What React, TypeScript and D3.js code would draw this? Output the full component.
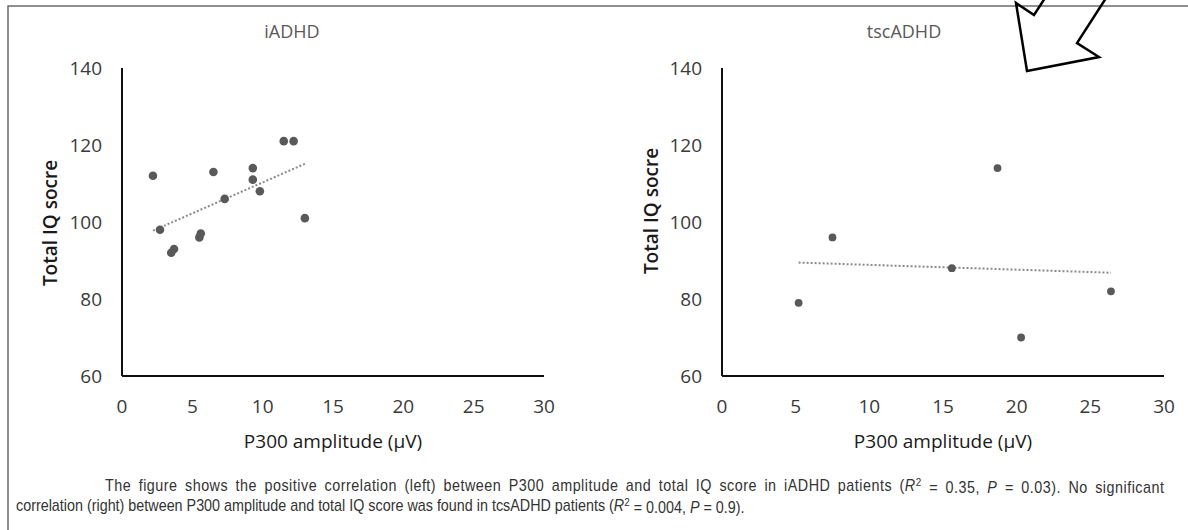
import React from 'react'
import * as d3 from 'd3'

// P300 amplitude (uV) vs total IQ score
const iadhdAmp = [2.2, 2.7, 3.5, 3.7, 5.5, 5.6, 6.5, 7.3, 9.3, 9.3, 9.8, 11.5, 12.2, 13.0]
const iadhdIQ = [112, 98, 92, 93, 96, 97, 113, 106, 114, 111, 108, 121, 121, 101]
const tscAmp = [5.2, 7.5, 15.6, 18.7, 20.3, 26.4]
const tscIQ = [79, 96, 88, 114, 70, 82]

const xTicks = [0, 5, 10, 15, 20, 25, 30]
const yTicks = [60, 80, 100, 120, 140]

const W = 1188
const H = 530

const panels = [
    { title: 'iADHD', xs: iadhdAmp, ys: iadhdIQ, left: 122, right: 544, titleX: 292, yTitleX: 50, yTitleY: 223, r: 4.3 },
    { title: 'tscADHD', xs: tscAmp, ys: tscIQ, left: 722, right: 1164, titleX: 904, yTitleX: 651, yTitleY: 211, r: 3.9 },
]

const fit = (xs: number[], ys: number[]) => {
    const mx = d3.mean(xs) as number
    const my = d3.mean(ys) as number
    const sxy = d3.sum(xs, (x, i) => (x - mx) * (ys[i] - my))
    const sxx = d3.sum(xs, (x) => (x - mx) * (x - mx))
    const b = sxy / sxx
    return (x: number) => my + b * (x - mx)
}

const App = () => {
    const ref = React.useRef<SVGSVGElement>(null)

    React.useEffect(() => {
        document.body.style.margin = '0'
        const svg = d3.select(ref.current)
        svg.selectAll('*').remove()

        const top = 68
        const bottom = 376
        const font = '"Open Sans", sans-serif'

        panels.forEach((p) => {
            const x = d3.scaleLinear().domain([0, 30]).range([p.left, p.right])
            const y = d3.scaleLinear().domain([60, 140]).range([bottom, top])
            const g = svg.append('g')

            g.append('text')
                .attr('x', p.titleX)
                .attr('y', 38)
                .attr('text-anchor', 'middle')
                .style('font-family', font)
                .style('font-size', '18px')
                .attr('fill', '#595959')
                .text(p.title)

            // axis lines, no tick marks
            g.append('line')
                .attr('x1', p.left).attr('y1', y(140))
                .attr('x2', p.left).attr('y2', y(60))
                .attr('stroke', '#111').attr('stroke-width', 2)
            g.append('line')
                .attr('x1', p.left).attr('y1', y(60))
                .attr('x2', p.right).attr('y2', y(60))
                .attr('stroke', '#111').attr('stroke-width', 2)

            g.selectAll('.yt')
                .data(yTicks)
                .enter()
                .append('text')
                .attr('x', p.left - 20)
                .attr('y', (d) => y(d))
                .attr('dy', '0.36em')
                .attr('text-anchor', 'end')
                .style('font-family', font)
                .style('font-size', '19px')
                .attr('fill', '#3a3a3a')
                .text((d) => d)

            g.selectAll('.xt')
                .data(xTicks)
                .enter()
                .append('text')
                .attr('x', (d) => x(d))
                .attr('y', 413)
                .attr('text-anchor', 'middle')
                .style('font-family', font)
                .style('font-size', '19px')
                .attr('fill', '#3a3a3a')
                .text((d) => d)

            g.append('text')
                .attr('transform', `translate(${p.yTitleX},${p.yTitleY}) rotate(-90)`)
                .attr('dy', '0.36em')
                .attr('text-anchor', 'middle')
                .style('font-family', font)
                .style('font-size', '19px')
                .style('font-weight', 600)
                .attr('fill', '#1a1a1a')
                .text('Total IQ socre')

            g.append('text')
                .attr('x', (p.left + p.right) / 2)
                .attr('y', 448)
                .attr('text-anchor', 'middle')
                .style('font-family', font)
                .style('font-size', '19px')
                .attr('fill', '#1a1a1a')
                .text('P300 amplitude (\u03bcV)')

            // linear trend line over the data range
            const f = fit(p.xs, p.ys)
            const [lo, hi] = d3.extent(p.xs) as [number, number]
            g.append('line')
                .attr('x1', x(lo)).attr('y1', y(f(lo)))
                .attr('x2', x(hi)).attr('y2', y(f(hi)))
                .attr('stroke', '#8a8a8a')
                .attr('stroke-width', 2)
                .attr('stroke-dasharray', '2 2')

            g.selectAll('circle')
                .data(p.xs)
                .enter()
                .append('circle')
                .attr('cx', (d) => x(d))
                .attr('cy', (d, i) => y(p.ys[i]))
                .attr('r', p.r)
                .attr('fill', '#595959')
        })

        // frame
        svg.append('path')
            .attr('d', `M 8 ${H} V 6 H ${W}`)
            .attr('fill', 'none')
            .attr('stroke', '#6b6b6b')
            .attr('stroke-width', 1.5)

        // hollow arrow annotation
        svg.append('polygon')
            .attr('points', '1027,71 1016,3 1034,15 1047,-5 1108,-5 1077,43 1099,57')
            .attr('fill', 'none')
            .attr('stroke', '#000')
            .attr('stroke-width', 2.5)
            .attr('stroke-linejoin', 'miter')

        // caption (justified paragraph, condensed type)
        const cap = svg.append('g')
            .style('font-family', '"Liberation Sans", Arial, sans-serif')
            .style('font-size', '16px')
            .attr('fill', '#333')

        const addLine = (x0: number, yb: number, parts: [string, string?][]) => {
            const t = cap.append('text').attr('x', x0).attr('y', yb)
            parts.forEach(([s, kind]) => {
                const ts = t.append('tspan').text(s)
                if (kind === 'i') ts.style('font-style', 'italic')
                if (kind === 'sup') ts.attr('dy', '-0.45em').style('font-size', '11px')
                if (kind === 'after') ts.attr('dy', '0.45em')
            })
            return t
        }

        const x1 = 105
        const x2 = 16
        const l1 = addLine(x1, 491, [
            ['The figure shows the positive correlation (left) between P300 amplitude and total IQ score in iADHD patients ('],
            ['R', 'i'], ['2', 'sup'], [' = 0.35, ', 'after'], ['P', 'i'], [' = 0.03). No significant'],
        ])
        const l2 = addLine(x2, 511, [
            ['correlation (right) between P300 amplitude and total IQ score was found in tcsADHD patients ('],
            ['R', 'i'], ['2', 'sup'], [' = 0.004, ', 'after'], ['P', 'i'], [' = 0.9).'],
        ])

        const n2 = (l2.node() as SVGTextElement).getComputedTextLength()
        const k = (745 - x2) / n2
        const n1 = (l1.node() as SVGTextElement).getComputedTextLength()
        const txt = l1.text()
        const spaces = (txt.match(/ /g) || []).length
        const extra = Math.max(0, (1165 - x1) / k - n1)
        // spread the justification over letters and word gaps
        l1.style('letter-spacing', `${(extra * 0.5) / txt.length}px`)
        l1.style('word-spacing', `${(extra * 0.5) / spaces}px`)
        l1.attr('transform', `translate(${x1 * (1 - k)},0) scale(${k},1)`)
        l2.attr('transform', `translate(${x2 * (1 - k)},0) scale(${k},1)`)
    }, [])

    return (
        <div style={{ width: W, height: H, background: '#fff', overflow: 'hidden' }}>
            <svg ref={ref} width={W} height={H} style={{ display: 'block' }}></svg>
        </div>
    )
}

export default App
